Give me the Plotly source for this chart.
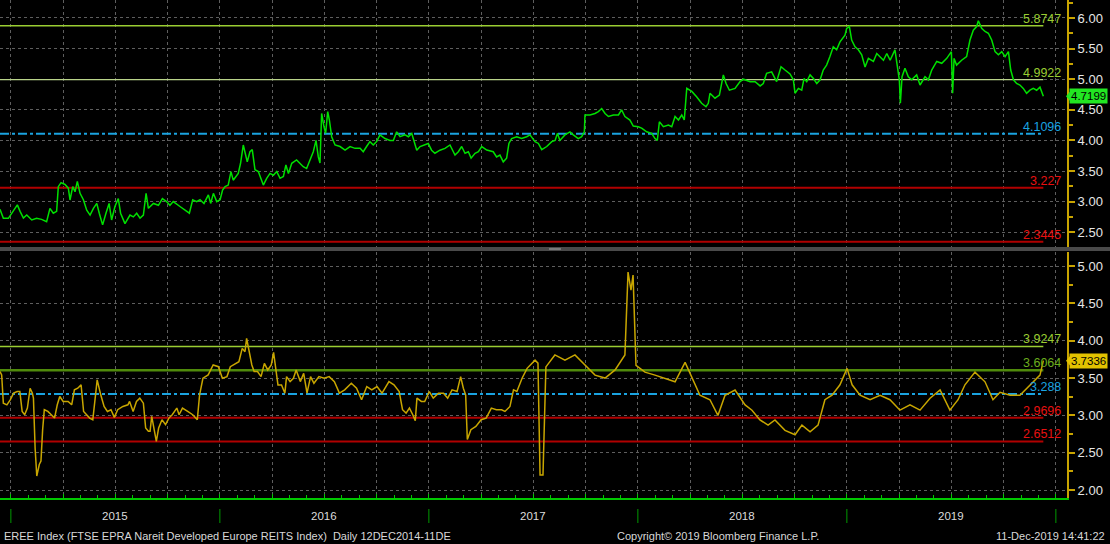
import plotly.graph_objects as go

# ---------------- data (time as decimal year) ----------------
top_t = [2014.948, 2014.964, 2014.988, 2015.004, 2015.020, 2015.031, 2015.044, 2015.060, 2015.076, 2015.100,
         2015.123, 2015.147, 2015.171, 2015.187, 2015.203, 2015.219, 2015.227, 2015.240, 2015.259, 2015.275,
         2015.283, 2015.296, 2015.307, 2015.318, 2015.331, 2015.347, 2015.363, 2015.379, 2015.395, 2015.411,
         2015.423, 2015.439, 2015.455, 2015.470, 2015.482, 2015.498, 2015.514, 2015.525, 2015.546, 2015.570,
         2015.586, 2015.602, 2015.618, 2015.634, 2015.647, 2015.658, 2015.682, 2015.706, 2015.725, 2015.745,
         2015.761, 2015.777, 2015.809, 2015.833, 2015.854, 2015.870, 2015.889, 2015.905, 2015.924, 2015.945,
         2015.956, 2015.969, 2015.985, 2016.001, 2016.013, 2016.025, 2016.040, 2016.053, 2016.064, 2016.088,
         2016.099, 2016.112, 2016.125, 2016.131, 2016.144, 2016.155, 2016.168, 2016.184, 2016.208, 2016.224,
         2016.240, 2016.256, 2016.272, 2016.288, 2016.304, 2016.316, 2016.328, 2016.344, 2016.367, 2016.383,
         2016.399, 2016.415, 2016.431, 2016.447, 2016.460, 2016.471, 2016.479, 2016.487, 2016.498, 2016.506,
         2016.516, 2016.524, 2016.535, 2016.551, 2016.575, 2016.599, 2016.623, 2016.647, 2016.671, 2016.686,
         2016.702, 2016.718, 2016.734, 2016.750, 2016.766, 2016.790, 2016.814, 2016.830, 2016.846, 2016.862,
         2016.886, 2016.902, 2016.918, 2016.934, 2016.942, 2016.958, 2016.974, 2016.997, 2017.013, 2017.029,
         2017.053, 2017.077, 2017.101, 2017.125, 2017.141, 2017.157, 2017.173, 2017.189, 2017.202, 2017.221,
         2017.237, 2017.253, 2017.277, 2017.308, 2017.324, 2017.340, 2017.356, 2017.372, 2017.383, 2017.396,
         2017.420, 2017.444, 2017.468, 2017.484, 2017.508, 2017.524, 2017.540, 2017.564, 2017.588, 2017.604,
         2017.615, 2017.627, 2017.651, 2017.675, 2017.691, 2017.715, 2017.731, 2017.744, 2017.747, 2017.771,
         2017.795, 2017.811, 2017.827, 2017.843, 2017.859, 2017.883, 2017.907, 2017.922, 2017.938, 2017.962,
         2017.978, 2018.002, 2018.018, 2018.042, 2018.066, 2018.082, 2018.093, 2018.103, 2018.122, 2018.146,
         2018.162, 2018.178, 2018.194, 2018.210, 2018.222, 2018.234, 2018.258, 2018.281, 2018.305, 2018.326,
         2018.337, 2018.345, 2018.369, 2018.390, 2018.409, 2018.422, 2018.438, 2018.465, 2018.489, 2018.505,
         2018.537, 2018.561, 2018.585, 2018.600, 2018.616, 2018.640, 2018.664, 2018.685, 2018.704, 2018.728,
         2018.744, 2018.752, 2018.768, 2018.784, 2018.795, 2018.808, 2018.824, 2018.840, 2018.856, 2018.872,
         2018.887, 2018.903, 2018.919, 2018.935, 2018.951, 2018.967, 2018.991, 2018.999, 2019.012, 2019.023,
         2019.039, 2019.055, 2019.071, 2019.087, 2019.103, 2019.127, 2019.143, 2019.159, 2019.175, 2019.191,
         2019.207, 2019.230, 2019.241, 2019.251, 2019.256, 2019.264, 2019.278, 2019.294, 2019.310, 2019.334,
         2019.350, 2019.374, 2019.390, 2019.406, 2019.430, 2019.454, 2019.478, 2019.494, 2019.500, 2019.506,
         2019.513, 2019.525, 2019.549, 2019.573, 2019.589, 2019.605, 2019.621, 2019.629, 2019.645, 2019.661,
         2019.677, 2019.693, 2019.709, 2019.725, 2019.741, 2019.757, 2019.773, 2019.784, 2019.797, 2019.812,
         2019.828, 2019.844, 2019.860, 2019.876, 2019.892, 2019.908, 2019.924, 2019.940]
top_v = [2.874, 2.727, 2.727, 2.81, 2.89, 2.946, 2.84, 2.73, 2.78, 2.70,
         2.727, 2.71, 2.67, 2.89, 2.81, 2.84, 3.244, 3.31, 3.28, 3.22,
         3.026, 3.244, 3.16, 3.33, 3.135, 3.03, 2.86, 2.78, 2.89, 2.97,
         2.81, 2.62, 2.81, 2.97, 2.70, 2.92, 3.05, 2.81, 2.64, 2.78,
         2.75, 2.81, 2.73, 2.78, 3.135, 2.89, 2.97, 2.94, 3.05, 3.0,
         2.94, 3.0, 2.92, 2.86, 2.81, 3.03, 3.0, 3.03, 2.97, 3.11,
         2.97, 3.135, 3.0, 3.03, 3.19, 3.244, 3.27, 3.49, 3.35, 3.46,
         3.626, 3.925, 3.76, 3.65, 3.815, 3.85, 3.52, 3.49, 3.27, 3.38,
         3.46, 3.43, 3.49, 3.38, 3.41, 3.598, 3.46, 3.626, 3.68, 3.626,
         3.57, 3.54, 3.68, 3.815, 4.0, 3.73, 3.63, 4.44, 4.224, 4.115,
         4.47, 4.333, 4.06, 3.925, 3.90, 3.84, 3.90, 3.87, 3.87, 3.815,
         3.90, 3.98, 3.925, 3.98, 4.09, 4.03, 4.0, 4.0, 4.14, 4.06,
         4.09, 4.06, 4.115, 3.925, 3.84, 3.90, 3.925, 3.95, 3.84, 3.79,
         3.84, 3.87, 3.925, 3.76, 3.815, 3.90, 3.79, 3.815, 3.71, 3.79,
         3.815, 3.90, 3.843, 3.815, 3.73, 3.76, 3.65, 3.71, 3.95, 4.03,
         4.06, 4.03, 4.06, 4.09, 3.98, 3.95, 3.85, 3.90, 3.98, 4.0,
         4.115, 4.0, 4.09, 4.14, 4.09, 4.03, 4.06, 4.14, 4.415, 4.415,
         4.44, 4.47, 4.52, 4.44, 4.39, 4.415, 4.415, 4.50, 4.39, 4.333,
         4.235, 4.224, 4.20, 4.14, 4.115, 4.03, 4.0, 4.305, 4.224, 4.25,
         4.224, 4.39, 4.333, 4.415, 4.333, 4.85, 4.80, 4.714, 4.606, 4.55,
         4.606, 4.77, 4.69, 4.74, 5.07, 4.93, 4.82, 4.85, 4.96, 5.0,
         4.96, 4.96, 4.89, 4.93, 5.096, 5.12, 4.96, 5.204, 5.15, 5.085,
         4.99, 4.77, 4.85, 4.82, 5.01, 4.96, 5.07, 5.01, 4.93, 4.99,
         5.15, 5.23, 5.37, 5.53, 5.48, 5.61, 5.72, 5.83, 5.86, 5.64,
         5.53, 5.48, 5.40, 5.2, 5.34, 5.29, 5.42, 5.37, 5.31, 5.42,
         5.31, 5.48, 5.23, 4.99, 4.606, 5.04, 5.18, 5.04, 4.99, 5.07,
         4.905, 5.04, 4.99, 5.15, 5.29, 5.26, 5.34, 5.42, 5.45, 4.77,
         5.34, 5.23, 5.31, 5.37, 5.64, 5.80, 5.86, 5.956, 5.83, 5.78,
         5.75, 5.64, 5.45, 5.40, 5.45, 5.37, 5.45, 5.15, 4.99, 4.93,
         4.905, 4.85, 4.77, 4.82, 4.85, 4.82, 4.87, 4.7199]

bot_t = [2014.948, 2014.956, 2014.964, 2014.981, 2014.997, 2015.013, 2015.030, 2015.043, 2015.054, 2015.066,
         2015.079, 2015.092, 2015.103, 2015.108, 2015.116, 2015.124, 2015.136, 2015.144, 2015.152, 2015.160,
         2015.177, 2015.193, 2015.209, 2015.222, 2015.234, 2015.250, 2015.274, 2015.291, 2015.304, 2015.320,
         2015.336, 2015.348, 2015.364, 2015.377, 2015.392, 2015.402, 2015.413, 2015.430, 2015.446, 2015.462,
         2015.479, 2015.495, 2015.511, 2015.536, 2015.560, 2015.568, 2015.585, 2015.601, 2015.617, 2015.634,
         2015.645, 2015.658, 2015.666, 2015.674, 2015.683, 2015.696, 2015.707, 2015.723, 2015.740, 2015.756,
         2015.772, 2015.794, 2015.805, 2015.821, 2015.846, 2015.870, 2015.892, 2015.903, 2015.919, 2015.944,
         2015.968, 2015.993, 2016.012, 2016.034, 2016.050, 2016.074, 2016.091, 2016.107, 2016.120, 2016.128,
         2016.140, 2016.153, 2016.164, 2016.180, 2016.197, 2016.213, 2016.229, 2016.246, 2016.257, 2016.270,
         2016.278, 2016.295, 2016.311, 2016.319, 2016.336, 2016.352, 2016.365, 2016.385, 2016.401, 2016.417,
         2016.434, 2016.450, 2016.474, 2016.499, 2016.523, 2016.548, 2016.572, 2016.597, 2016.629, 2016.654,
         2016.678, 2016.703, 2016.727, 2016.752, 2016.776, 2016.809, 2016.833, 2016.858, 2016.874, 2016.891,
         2016.907, 2016.923, 2016.935, 2016.943, 2016.964, 2016.980, 2017.002, 2017.021, 2017.046, 2017.070,
         2017.090, 2017.111, 2017.135, 2017.152, 2017.165, 2017.176, 2017.184, 2017.201, 2017.225, 2017.250,
         2017.274, 2017.299, 2017.323, 2017.348, 2017.364, 2017.388, 2017.405, 2017.421, 2017.446, 2017.470,
         2017.491, 2017.508, 2017.522, 2017.532, 2017.546, 2017.560, 2017.603, 2017.651, 2017.699, 2017.747,
         2017.795, 2017.843, 2017.891, 2017.938, 2017.953, 2017.967, 2017.977, 2017.991, 2018.034, 2018.082,
         2018.130, 2018.178, 2018.226, 2018.259, 2018.297, 2018.345, 2018.383, 2018.417, 2018.465, 2018.513,
         2018.546, 2018.584, 2018.623, 2018.656, 2018.704, 2018.752, 2018.785, 2018.824, 2018.862, 2018.895,
         2018.929, 2018.967, 2019.001, 2019.025, 2019.063, 2019.111, 2019.159, 2019.206, 2019.254, 2019.302,
         2019.350, 2019.398, 2019.446, 2019.493, 2019.532, 2019.565, 2019.613, 2019.661, 2019.699, 2019.733,
         2019.781, 2019.828, 2019.876, 2019.924, 2019.940]
bot_v = [3.587, 3.542, 3.164, 3.142, 3.209, 3.298, 3.32, 3.32, 3.053, 3.009,
         3.098, 3.364, 3.298, 3.231, 2.564, 2.187, 2.342, 2.387, 2.809, 3.076,
         3.053, 3.009, 2.964, 3.142, 3.253, 3.187, 3.187, 3.142, 3.342, 3.364,
         3.409, 3.053, 3.009, 2.964, 2.942, 3.231, 3.476, 3.276, 3.12, 3.053,
         3.076, 2.973, 3.076, 3.12, 3.142, 3.187, 3.053, 3.187, 3.231, 3.164,
         2.831, 2.787, 2.787, 2.987, 2.831, 2.653, 2.831, 2.942, 2.876, 2.964,
         3.009, 3.098, 3.009, 3.098, 3.053, 3.009, 2.942, 3.276, 3.498, 3.542,
         3.676, 3.653, 3.498, 3.52, 3.653, 3.698, 3.72, 3.898, 3.853, 4.031,
         3.876, 3.676, 3.587, 3.587, 3.52, 3.698, 3.609, 3.676, 3.844, 3.609,
         3.409, 3.409, 3.298, 3.52, 3.453, 3.498, 3.609, 3.453, 3.564, 3.298,
         3.52, 3.431, 3.52, 3.498, 3.52, 3.453, 3.298, 3.342, 3.431, 3.364,
         3.209, 3.387, 3.342, 3.387, 3.298, 3.453, 3.409, 3.32, 3.076, 3.031,
         3.098, 3.009, 2.929, 3.231, 3.187, 3.187, 3.32, 3.231, 3.298, 3.298,
         3.231, 3.342, 3.32, 3.52, 3.364, 3.276, 2.676, 2.809, 2.853, 2.942,
         2.964, 3.098, 3.076, 3.076, 3.053, 3.12, 3.342, 3.32, 3.498, 3.631,
         3.698, 3.741, 3.70, 2.2, 2.2, 3.65, 3.81, 3.74, 3.81, 3.67,
         3.54, 3.50, 3.61, 3.81, 4.92, 4.68, 4.88, 3.67, 3.58, 3.54,
         3.50, 3.45, 3.71, 3.50, 3.27, 3.21, 3.0, 3.27, 3.34, 3.14,
         3.07, 2.94, 2.87, 2.94, 2.80, 2.74, 2.87, 2.78, 2.87, 3.21,
         3.27, 3.41, 3.63, 3.41, 3.27, 3.21, 3.27, 3.21, 3.07, 3.14,
         3.07, 3.23, 3.34, 3.07, 3.21, 3.41, 3.58, 3.45, 3.21, 3.31,
         3.27, 3.27, 3.41, 3.54, 3.7336]

top_levels = [5.8747, 4.9922, 4.1096, 3.227, 2.3445]
top_level_labels = ["5.8747", "4.9922", "4.1096", "3.227", "2.3445"]
bot_levels = [3.9247, 3.6064, 3.288, 2.9696, 2.6512]
bot_level_labels = ["3.9247", "3.6064", "3.288", "2.9696", "2.6512"]
top_last_label = "4.7199"
bot_last_label = "3.7336"

years = [2015, 2016, 2017, 2018, 2019]
year_labels = ["2015", "2016", "2017", "2018", "2019"]
year_bounds = [2015, 2016, 2017, 2018, 2019, 2020]

footer_left = "EREE Index (FTSE EPRA Nareit Developed Europe REITS Index)  Daily 12DEC2014-11DE"
footer_mid = "Copyright\u00a9 2019 Bloomberg Finance L.P."
footer_right = "11-Dec-2019 14:41:22"

# ---------------- styles ----------------
GREEN_LVL = "#9ACD32"
OLIVE_LVL = "#4F8A0B"
CYAN = "#1AA3E0"
DRED = "#B00000"
RED_TXT = "#E81010"
GRID = "#5E5E5E"
AXIS_Y = "#C8A400"
FONT = "Liberation Sans, Arial, sans-serif"

level_styles_top = [
    dict(color=GREEN_LVL, width=1.5, dash="solid", tcolor=GREEN_LVL),
    dict(color="#B9D38A", width=1.2, dash="solid", tcolor=GREEN_LVL),
    dict(color=CYAN, width=2, dash="dashdot", tcolor=CYAN),
    dict(color=DRED, width=2, dash="solid", tcolor=RED_TXT),
    dict(color=DRED, width=2, dash="solid", tcolor=RED_TXT),
]
level_styles_bot = [
    dict(color=GREEN_LVL, width=1.5, dash="solid", tcolor=GREEN_LVL),
    dict(color=OLIVE_LVL, width=2.5, dash="solid", tcolor="#6BAE1E"),
    dict(color=CYAN, width=2, dash="dashdot", tcolor=CYAN),
    dict(color=DRED, width=2, dash="solid", tcolor=RED_TXT),
    dict(color=DRED, width=2, dash="solid", tcolor=RED_TXT),
]

fig = go.Figure()

x_start, x_end = top_t[0], top_t[-1]

# level lines
for lvl, st in zip(top_levels, level_styles_top):
    fig.add_trace(go.Scatter(x=[x_start, x_end], y=[lvl, lvl], mode="lines",
                             line=dict(color=st["color"], width=st["width"], dash=st["dash"]),
                             xaxis="x", yaxis="y", hoverinfo="skip", showlegend=False))
for lvl, st in zip(bot_levels, level_styles_bot):
    fig.add_trace(go.Scatter(x=[x_start, x_end], y=[lvl, lvl], mode="lines",
                             line=dict(color=st["color"], width=st["width"], dash=st["dash"]),
                             xaxis="x2", yaxis="y2", hoverinfo="skip", showlegend=False))

# series
fig.add_trace(go.Scatter(x=top_t, y=top_v, mode="lines", line=dict(color="#00E000", width=1.5),
                         xaxis="x", yaxis="y", showlegend=False, name="Top"))
fig.add_trace(go.Scatter(x=bot_t, y=bot_v, mode="lines", line=dict(color="#C8A600", width=1.5),
                         xaxis="x2", yaxis="y2", showlegend=False, name="Bottom"))

# axes geometry
PX_W = 1067.0
x_range = [2014.948, 2014.948 + 1067.0 / 209.0]
top_dom = [0.504, 1.0]
bot_dom = [0.0, 0.494]

common_x = dict(range=x_range, showgrid=True, gridcolor=GRID, griddash="dot", gridwidth=1,
                tick0=2015, dtick=0.25, zeroline=False, showticklabels=False, automargin=False)
common_y = dict(side="right", showline=True, linecolor=AXIS_Y, linewidth=2, ticks="outside",
                ticklen=6, tickwidth=2, tickcolor=AXIS_Y, dtick=0.5, tick0=0, tickformat=".2f",
                showgrid=True, gridcolor=GRID, griddash="dot", gridwidth=1, zeroline=False,
                tickfont=dict(family=FONT, size=13, color="#E6E6E6"), automargin=False,
                minor=dict(dtick=0.25, tick0=0, ticks="outside", ticklen=4, tickwidth=2,
                           tickcolor=AXIS_Y, showgrid=False))

fig.update_layout(
    template="none",
    width=1110, height=544,
    margin=dict(l=0, r=43, t=0, b=46),
    paper_bgcolor="#000000", plot_bgcolor="#000000",
    showlegend=False,
    xaxis=dict(domain=[0, 1], anchor="y", showline=False, ticks="", **common_x),
    xaxis2=dict(domain=[0, 1], anchor="y2", matches="x", showline=True, linecolor="#00C800",
                linewidth=2, ticks="inside", ticklen=4, tickcolor="#00C800",
                minor=dict(dtick=1 / 12, tick0=2015, ticks="inside", ticklen=3,
                           tickcolor="#00C800", showgrid=False),
                **common_x),
    yaxis=dict(domain=top_dom, anchor="x", range=[2.258, 6.294], **common_y),
    yaxis2=dict(domain=bot_dom, anchor="x2", range=[1.893, 5.19], **common_y),
)

shapes = []
# separator bar between panels
shapes.append(dict(type="rect", xref="paper", yref="paper", x0=0, x1=1110 / PX_W,
                   y0=(498 - 251) / 498, y1=(498 - 247) / 498,
                   fillcolor="#4A4A4A", line=dict(width=0), layer="above"))
shapes.append(dict(type="rect", xref="paper", yref="paper", x0=549 / PX_W, x1=561 / PX_W,
                   y0=(498 - 249.6) / 498, y1=(498 - 248.4) / 498,
                   fillcolor="#9A9A9A", line=dict(width=0), layer="above"))
# year separators below axis
for yb in year_bounds:
    shapes.append(dict(type="line", xref="x2", yref="paper", x0=yb, x1=yb,
                       y0=-(509 - 498) / 498, y1=-(523 - 498) / 498,
                       line=dict(color="#009A00", width=1)))

annotations = []
for yr, lab in zip(years, year_labels):
    annotations.append(dict(x=yr + 0.5, xref="x2", y=-(516 - 498) / 498, yref="paper",
                            text=lab, showarrow=False, xanchor="center", yanchor="middle",
                            font=dict(family=FONT, size=11.5, color="#DCDCDC")))

for lvl, lab, st in zip(top_levels, top_level_labels, level_styles_top):
    annotations.append(dict(x=1063 / PX_W, xref="paper", y=lvl, yref="y", text=lab,
                            showarrow=False, xanchor="right", yanchor="bottom", yshift=-2,
                            font=dict(family=FONT, size=12.5, color=st["tcolor"])))
for lvl, lab, st in zip(bot_levels, bot_level_labels, level_styles_bot):
    annotations.append(dict(x=1063 / PX_W, xref="paper", y=lvl, yref="y2", text=lab,
                            showarrow=False, xanchor="right", yanchor="bottom", yshift=-2,
                            font=dict(family=FONT, size=12.5, color=st["tcolor"])))

# last-value tags
for val_lab, val, yref, bg, dy in [(top_last_label, top_v[-1], "y", "#22E622", 0.115),
                                   (bot_last_label, bot_v[-1], "y2", "#E2C200", 0.094)]:
    annotations.append(dict(x=1108 / PX_W, xref="paper", y=val, yref=yref, text=val_lab,
                            showarrow=False, xanchor="right", yanchor="middle", bgcolor=bg,
                            borderpad=1, font=dict(family=FONT, size=11.5, color="#000000")))
    x0p = 1066 / PX_W
    x1p = 1072 / PX_W
    shapes.append(dict(type="path", xref="paper", yref=yref,
                       path=f"M {x0p},{val} L {x1p},{val + dy} L {x1p},{val - dy} Z",
                       fillcolor=bg, line=dict(width=0)))

annotations.append(dict(x=2 / PX_W, xref="paper", y=-(536 - 498) / 498, yref="paper",
                        text=footer_left, showarrow=False, xanchor="left", yanchor="middle",
                        font=dict(family=FONT, size=11, color="#D8D8D8")))
annotations.append(dict(x=718 / PX_W, xref="paper", y=-(536 - 498) / 498, yref="paper",
                        text=footer_mid, showarrow=False, xanchor="center", yanchor="middle",
                        font=dict(family=FONT, size=11, color="#D8D8D8")))
annotations.append(dict(x=1107 / PX_W, xref="paper", y=-(536 - 498) / 498, yref="paper",
                        text=footer_right, showarrow=False, xanchor="right", yanchor="middle",
                        font=dict(family=FONT, size=11, color="#D8D8D8")))

fig.update_layout(shapes=shapes, annotations=annotations)

fig.write_html("out.html", config={"displayModeBar": False},
               post_script="document.body.style.margin='0px';document.body.style.overflow='hidden';"
                           "document.body.style.background='#000';")
